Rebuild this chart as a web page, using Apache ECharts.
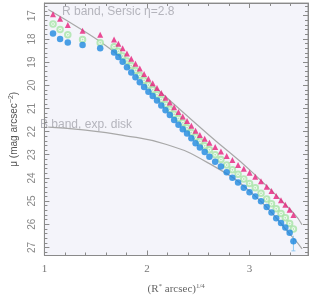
<!DOCTYPE html>
<html><head><meta charset="utf-8">
<script src="https://cdn.jsdelivr.net/npm/echarts@6/dist/echarts.min.js"></script>
<style>html,body{margin:0;padding:0;background:#fff}#c{width:314px;height:300px}</style>
</head><body><div id="c"></div>
<script>
// shared radius positions (R^1/4)
const xVals = [1.084,1.153,1.228,1.372,1.544,1.679,1.721,1.763,1.805,1.847,1.888,1.930,1.972,2.014,2.056,2.098,2.140,2.181,2.223,2.265,2.307,2.349,2.391,2.433,2.474,2.516,2.563,2.609,2.665,2.721,2.777,2.833,2.888,2.944,3.000,3.056,3.112,3.167,3.214,3.260,3.307,3.349,3.391,3.428];
const magentaMu = [16.94,17.13,17.40,17.65,17.82,18.03,18.21,18.40,18.63,18.86,19.07,19.28,19.51,19.72,19.91,20.12,20.33,20.54,20.74,20.95,21.16,21.35,21.54,21.75,21.96,22.15,22.31,22.48,22.67,22.86,23.05,23.23,23.44,23.61,23.78,23.95,24.15,24.38,24.57,24.78,24.97,25.16,25.37,25.60];
const greenMu = [17.36,17.59,17.82,18.03,18.17,18.34,18.53,18.74,18.95,19.15,19.36,19.57,19.78,19.99,20.20,20.41,20.62,20.83,21.04,21.25,21.44,21.62,21.83,22.04,22.23,22.42,22.61,22.79,23.00,23.21,23.44,23.65,23.84,24.05,24.24,24.43,24.66,24.91,25.12,25.33,25.54,25.72,25.97,26.21];
const blueMu = [17.77,18.00,18.15,18.26,18.40,18.59,18.78,18.99,19.22,19.45,19.66,19.87,20.08,20.28,20.47,20.66,20.87,21.08,21.29,21.50,21.71,21.90,22.08,22.29,22.50,22.69,22.88,23.09,23.30,23.51,23.76,23.99,24.20,24.43,24.62,24.80,25.01,25.26,25.49,25.74,25.95,26.14,26.37,26.73];
// error bar on last blue point: [x, low, high]
const blueErr = [[3.428, 26.50, 27.15]];
// model curves
const sersicX = [1.037,1.381,1.633,1.865,2.098,2.609,3.028,3.428,3.512];
const sersicMu = [16.73,17.65,18.40,19.24,20.16,22.17,23.76,25.51,26.02];
const diskX = [1.037,1.353,1.753,2.191,2.591,3.028,3.428,3.512];
const diskMu = [21.81,21.92,22.15,22.56,23.34,24.68,26.60,27.06];
const xTicks = [1, 2, 3];
const yRange = [16.45, 27.35];
const xRange = [1, 3.57];

const pair = (xs, ys) => xs.map((x, i) => [x, ys[i]]);
const axisCol = '#8a8a8a';
const serifFont = '"Liberation Serif", "DejaVu Serif", serif';
const sansFont = '"Liberation Sans", "DejaVu Sans", sans-serif';

const chart = echarts.init(document.getElementById('c'));
const commonX = {
  type: 'value', min: xRange[0], max: xRange[1], interval: 1,
  axisLine: {show: true, onZero: false, lineStyle: {color: axisCol, width: 1}},
  axisTick: {show: true, inside: true, length: 5, lineStyle: {color: axisCol}},
  minorTick: {show: true, splitNumber: 5, length: 3, lineStyle: {color: axisCol}},
  splitLine: {show: false}, minorSplitLine: {show: false}
};
const commonY = {
  type: 'value', inverse: true, min: yRange[0], max: yRange[1], splitNumber: 10,
  axisLine: {show: true, onZero: false, lineStyle: {color: axisCol, width: 1}},
  axisTick: {show: true, inside: true, length: 5, lineStyle: {color: axisCol}},
  minorTick: {show: true, splitNumber: 5, length: 3, lineStyle: {color: axisCol}},
  splitLine: {show: false}, minorSplitLine: {show: false}
};
chart.setOption({
  animation: false,
  backgroundColor: '#ffffff',
  grid: {left: 32, right: 6, top: 3, bottom: 36, show: true, backgroundColor: '#f4f4fa', borderColor: '#9a9a9a', borderWidth: 1},
  xAxis: [
    Object.assign({}, commonX, {
      position: 'bottom',
      axisLabel: {show: true, color: '#777', fontFamily: serifFont, fontSize: 11, margin: 8, showMaxLabel: false,
        formatter: v => xTicks.includes(v) ? String(v) : ''},
      name: '{a|(R}{s|*}{a| arcsec)}{s|1/4}',
      nameLocation: 'middle', nameGap: 27,
      nameTextStyle: {rich: {
        a: {fontFamily: serifFont, fontSize: 11, color: '#666'},
        s: {fontFamily: serifFont, fontSize: 7, color: '#666', verticalAlign: 'top', padding: [0, 0, 7, 0]}
      }}
    }),
    Object.assign({}, commonX, {position: 'top', axisLabel: {show: false}})
  ],
  yAxis: [
    Object.assign({}, commonY, {
      position: 'left',
      axisLabel: {show: true, rotate: 90, color: '#888', fontFamily: sansFont, fontSize: 10, margin: 7,
        showMinLabel: false, showMaxLabel: false},
      name: '{a|μ (mag arcsec}{s|−2}{a|)}',
      nameLocation: 'middle', nameGap: 21, nameRotate: 90,
      nameTextStyle: {rich: {
        a: {fontFamily: sansFont, fontSize: 10, color: '#555'},
        s: {fontFamily: sansFont, fontSize: 7, color: '#555', verticalAlign: 'top', padding: [0, 0, 6, 0]}
      }}
    }),
    Object.assign({}, commonY, {position: 'right', axisLabel: {show: false}})
  ],
  graphic: [
    {type: 'text', left: 62, top: 6, silent: true,
      style: {text: 'R band, Sersic η=2.8', fill: '#b4b4bc', font: '12px ' + sansFont}},
    {type: 'text', left: 40, top: 119, silent: true,
      style: {text: 'B band, exp. disk', fill: '#b4b4bc', font: '12px ' + sansFont}}
  ],
  series: [
    {type: 'line', data: pair(sersicX, sersicMu), smooth: true, symbol: 'none',
      lineStyle: {color: '#a8a8a8', width: 1.2}, z: 1},
    {type: 'line', data: pair(diskX, diskMu), smooth: true, symbol: 'none',
      lineStyle: {color: '#a8a8a8', width: 1.2}, z: 1},
    {type: 'custom', data: blueErr, z: 2,
      renderItem: (params, api) => {
        const p1 = api.coord([api.value(0), api.value(1)]);
        const p2 = api.coord([api.value(0), api.value(2)]);
        return {type: 'group', children: [
          {type: 'line', shape: {x1: p1[0], y1: p1[1], x2: p2[0], y2: p2[1]}, style: {stroke: '#8ec8f2', lineWidth: 1}},
          {type: 'line', shape: {x1: p2[0] - 2, y1: p2[1], x2: p2[0] + 2, y2: p2[1]}, style: {stroke: '#8ec8f2', lineWidth: 1}}
        ]};
      }},
    {type: 'scatter', data: pair(xVals, greenMu), symbol: 'emptyCircle', symbolSize: 5.5,
      itemStyle: {color: '#a6e3a6', borderColor: '#a6e3a6', borderWidth: 1.2}, z: 3},
    {type: 'scatter', data: pair(xVals, greenMu), symbol: 'circle', symbolSize: 2,
      itemStyle: {color: '#a6e3a6'}, z: 3},
    {type: 'scatter', data: pair(xVals, blueMu), symbol: 'circle', symbolSize: 6.5,
      itemStyle: {color: '#1e88e0'}, z: 4},
    {type: 'scatter', data: pair(xVals, magentaMu), symbol: 'triangle', symbolSize: [6, 6],
      itemStyle: {color: '#e6207c'}, z: 5}
  ]
});
</script></body></html>
